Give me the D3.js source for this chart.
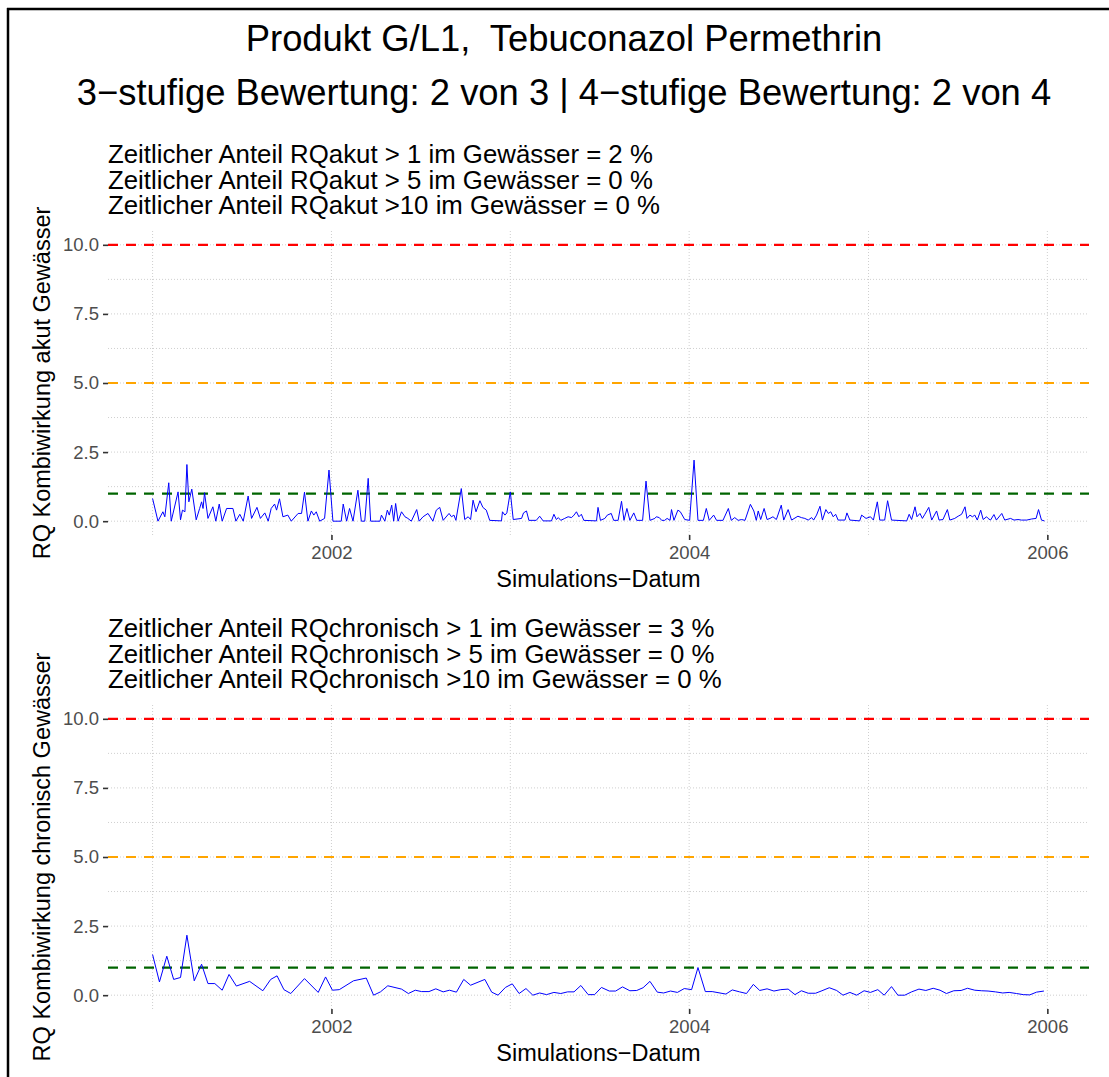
<!DOCTYPE html>
<html>
<head>
<meta charset="utf-8">
<script src="https://cdn.jsdelivr.net/npm/d3@7.9.0/dist/d3.min.js"></script>
<style>
  body { margin: 0; background: #fff; }
  svg { display: block; font-family: "Liberation Sans", Arial, Helvetica, sans-serif; }
</style>
</head>
<body>
<svg id="chart" width="1109" height="1077"></svg>
<script>
// Titles and annotation texts
const titleLines = [
  'Produkt G/L1,  Tebuconazol Permethrin',
  '3\u2212stufige Bewertung: 2 von 3 | 4\u2212stufige Bewertung: 2 von 4'
];
const acuteNotes = [
  'Zeitlicher Anteil RQakut > 1 im Gewässer = 2 %',
  'Zeitlicher Anteil RQakut > 5 im Gewässer = 0 %',
  'Zeitlicher Anteil RQakut >10 im Gewässer = 0 %'
];
const chronicNotes = [
  'Zeitlicher Anteil RQchronisch > 1 im Gewässer = 3 %',
  'Zeitlicher Anteil RQchronisch > 5 im Gewässer = 0 %',
  'Zeitlicher Anteil RQchronisch >10 im Gewässer = 0 %'
];
const acuteYTitle = 'RQ Kombiwirkung akut Gewässer';
const chronicYTitle = 'RQ Kombiwirkung chronisch Gewässer';
const xTitle = 'Simulations\u2212Datum';

// Axis ticks
const yTicks = [0, 2.5, 5, 7.5, 10];
const yMinorTicks = [1.25, 3.75, 6.25, 8.75];
const xTickYears = [2002, 2004, 2006];
const xMinorYears = [2001, 2003, 2005];

// Threshold lines (RQ = 10, 5, 1)
const thresholds = [10, 5, 1];
const thresholdColors = ['#ff0000', '#ffa500', '#006400'];

// Series: [days since 2001-01-01, RQ]
const acuteSeries = [
  [0,0.82],[11,0],[21,0.34],[25,0.16],[33,1.39],[38,0],[52,1.06],[57,0.05],[61,0.40],[66,0.34],
  [70,2.05],[74,0.70],[80,1.16],[89,0.05],[96,0.46],[100,0.70],[103,0.46],[106,1.03],[113,0.1],[123,0.52],
  [129,0],[136,0.62],[142,0],[151,0.46],[164,0.46],[170,0],[178,0.25],[185,0],[195,0.91],[202,0.1],
  [213,0.50],[220,0.1],[229,0.30],[236,0],[242,0.46],[249,0.62],[253,0.40],[259,0.81],[266,0.16],[276,0.22],
  [283,0],[297,0.28],[304,0.28],[310,1.05],[317,0],[324,0.37],[329,0.22],[334,0.34],[341,0],[351,0.1],
  [360,1.85],[368,0],[385,0],[389,0.62],[396,0],[402,0.46],[409,0],[419,1.12],[426,0],[433,0],
  [440,1.55],[445,0],[464,0],[467,0.22],[474,0],[479,0.40],[483,0.22],[488,0.58],[492,0],[496,0.64],
  [501,0],[508,0.34],[515,0.16],[521,0.1],[528,0],[539,0.42],[544,0],[552,0.16],[562,0.28],[572,0],
  [579,0.40],[586,0.50],[593,0.03],[605,0.28],[610,0.16],[615,0.22],[619,0.03],[630,1.18],[637,0.06],[644,0.16],
  [649,0.06],[654,0.76],[660,0.34],[668,0.74],[674,0.50],[681,0.40],[688,0.03],[712,0.01],[714,0.34],[719,0.22],
  [723,0.30],[730,1.06],[736,0.06],[753,0.1],[757,0.30],[763,0.37],[768,0.03],[783,0.03],[790,0.18],[797,0.01],
  [814,0.01],[819,0.25],[824,0.06],[828,0.13],[833,0.03],[841,0.1],[848,0.16],[855,0.13],[860,0.22],[865,0.34],
  [870,0.16],[875,0.25],[880,0.03],[906,0.01],[909,0.50],[914,0.03],[923,0.1],[928,0.22],[936,0.28],[941,0.03],
  [950,0.03],[957,0.72],[962,0.03],[968,0.46],[974,0.03],[982,0.30],[988,0.03],[1000,0.03],[1007,1.45],[1015,0.03],
  [1025,0.1],[1028,0.16],[1034,0.13],[1039,0.03],[1045,0.03],[1050,0.1],[1056,0.03],[1059,0.42],[1064,0.03],[1072,0.40],
  [1077,0.34],[1086,0.06],[1096,0.03],[1105,2.21],[1113,0.03],[1124,0.03],[1130,0.46],[1136,0.03],[1145,0.22],[1151,0.03],
  [1164,0.03],[1175,0.46],[1181,0.03],[1188,0.13],[1195,0.03],[1202,0.06],[1209,0.03],[1220,0.61],[1227,0.37],[1232,0.03],
  [1236,0.37],[1241,0.06],[1248,0.46],[1254,0.06],[1260,0.1],[1266,0.16],[1273,0.06],[1283,0.58],[1288,0.04],[1297,0.42],
  [1304,0.04],[1317,0.18],[1324,0.13],[1331,0.1],[1338,0.04],[1345,0.13],[1349,0.04],[1355,0.22],[1362,0.54],[1367,0.04],
  [1374,0.42],[1379,0.28],[1384,0.34],[1389,0.16],[1394,0.25],[1399,0.04],[1413,0.04],[1417,0.30],[1423,0.04],[1443,0.01],
  [1447,0.22],[1456,0.1],[1465,0.16],[1471,0.04],[1479,0.70],[1484,0.04],[1494,0.04],[1500,0.74],[1508,0.04],[1539,0.01],
  [1544,0.25],[1549,0.06],[1556,0.52],[1560,0.16],[1566,0.28],[1571,0.1],[1576,0.25],[1584,0.50],[1590,0.04],[1600,0.37],
  [1605,0.04],[1613,0.06],[1622,0.42],[1627,0.04],[1637,0.1],[1644,0.18],[1651,0.25],[1658,0.52],[1662,0.1],[1668,0.22],
  [1673,0.16],[1678,0.22],[1683,0.04],[1690,0.40],[1695,0.06],[1702,0.16],[1705,0.1],[1710,0.04],[1717,0.24],[1722,0.04],
  [1733,0.28],[1739,0.04],[1751,0.1],[1758,0.04],[1766,0.06],[1773,0.04],[1784,0.04],[1794,0.08],[1803,0.1],[1808,0.42],
  [1814,0.04],[1820,0.01]
];

const chronicSeries = [
  [0,1.47],[14,0.48],[29,1.41],[43,0.57],[57,0.64],[70,2.17],[85,0.52],[100,1.12],[113,0.42],[127,0.42],
  [142,0.18],[156,0.75],[171,0.33],[198,0.50],[225,0.16],[241,0.57],[254,0.70],[268,0.20],[282,0.06],[310,0.60],
  [338,0.10],[353,0.66],[367,0.18],[381,0.20],[410,0.52],[436,0.62],[451,0],[465,0.12],[480,0.34],[508,0.22],
  [522,0.06],[536,0.18],[549,0.13],[564,0.13],[578,0.23],[593,0.12],[606,0.18],[620,0.11],[635,0.57],[649,0.36],
  [678,0.57],[692,0.11],[705,0],[720,0.28],[734,0.41],[748,0.06],[762,0.24],[776,0],[790,0.08],[804,0.02],
  [819,0.10],[833,0.06],[847,0.12],[860,0.12],[874,0.35],[889,0.02],[902,0.02],[916,0.28],[932,0.15],[945,0.15],
  [959,0.30],[974,0.16],[988,0.17],[1001,0.27],[1015,0.50],[1030,0.11],[1043,0.08],[1057,0.15],[1071,0.10],[1085,0.24],
  [1100,0.20],[1113,1.0],[1128,0.13],[1142,0.13],[1170,0.04],[1183,0.19],[1198,0.12],[1212,0.06],[1226,0.39],[1239,0.17],
  [1254,0.23],[1268,0.15],[1282,0.20],[1297,0.22],[1311,0.02],[1324,0.16],[1338,0.07],[1353,0.07],[1366,0.16],[1381,0.27],
  [1396,0.17],[1409,0],[1423,0.10],[1437,0],[1452,0.16],[1465,0.10],[1480,0.20],[1493,0],[1508,0.31],[1521,0],
  [1535,0],[1549,0.12],[1564,0.22],[1578,0.17],[1593,0.25],[1607,0.18],[1620,0.06],[1635,0.16],[1650,0.17],[1663,0.25],
  [1678,0.18],[1692,0.16],[1705,0.15],[1720,0.12],[1735,0.08],[1748,0.10],[1763,0.06],[1777,0.02],[1790,0.01],[1804,0.11],
  [1819,0.15]
];

const svg = d3.select('#chart');
const width = 1109, height = 1077;

svg.append('rect').attr('width', width).attr('height', height).attr('fill', '#fff');

// frame remnants on the left and top edge
svg.append('line').attr('x1', 8).attr('x2', 8).attr('y1', 8).attr('y2', height)
  .attr('stroke', '#000').attr('stroke-width', 2.5);
svg.append('line').attr('x1', 7).attr('x2', width).attr('y1', 9).attr('y2', 9)
  .attr('stroke', '#000').attr('stroke-width', 2.5);

// main titles
const titleY = [51, 105];
titleLines.forEach((t, i) => {
  svg.append('text')
    .attr('x', 564).attr('y', titleY[i])
    .attr('text-anchor', 'middle')
    .attr('font-size', 36.4)
    .style('white-space', 'pre')
    .attr('fill', '#000')
    .text(t);
});

// shared time scale (ggplot-style 5% expansion)
const start = Date.UTC(2001, 0, 1);
const dayToDate = d => new Date(start + d * 864e5);
const allDays = acuteSeries.concat(chronicSeries).map(d => d[0]);
const [d0, d1] = d3.extent(allDays);
const xPad = (d1 - d0) * 0.05;
const plotLeft = 108, plotRight = 1089;
const x = d3.scaleUtc()
  .domain([dayToDate(d0 - xPad), dayToDate(d1 + xPad)])
  .range([plotLeft, plotRight]);

const panelHeight = 304;

function drawPanel(top, series, notes, yTitle) {
  const g = svg.append('g');
  const bottom = top + panelHeight;

  const yMax = d3.max(thresholds.concat(series.map(d => d[1])));
  const yPad = yMax * 0.05;
  const y = d3.scaleLinear().domain([-yPad, yMax + yPad]).range([bottom, top]);

  // grid
  const grid = g.append('g')
    .attr('stroke', '#cfcfcf')
    .attr('stroke-width', 1)
    .attr('stroke-dasharray', '1,2');
  grid.selectAll('.hg')
    .data(yTicks.concat(yMinorTicks))
    .join('line')
    .attr('x1', plotLeft).attr('x2', plotRight)
    .attr('y1', d => y(d)).attr('y2', d => y(d));
  grid.selectAll('.vg')
    .data(xTickYears.concat(xMinorYears))
    .join('line')
    .attr('x1', d => x(new Date(Date.UTC(d, 0, 1))))
    .attr('x2', d => x(new Date(Date.UTC(d, 0, 1))))
    .attr('y1', top).attr('y2', bottom);

  // threshold lines
  g.selectAll('.thr')
    .data(thresholds)
    .join('line')
    .attr('x1', plotLeft).attr('x2', plotRight)
    .attr('y1', d => y(d)).attr('y2', d => y(d))
    .attr('stroke', (d, i) => thresholdColors[i])
    .attr('stroke-width', 2.2)
    .attr('stroke-dasharray', '10,8');

  // RQ series
  const line = d3.line()
    .x(d => x(dayToDate(d[0])))
    .y(d => y(d[1]));
  g.append('path')
    .datum(series)
    .attr('fill', 'none')
    .attr('stroke', '#0000ff')
    .attr('stroke-width', 1)
    .attr('stroke-linejoin', 'round')
    .attr('d', line);

  // axes
  const yAxis = g.append('g')
    .attr('transform', `translate(${plotLeft},0)`)
    .call(d3.axisLeft(y).tickValues(yTicks).tickFormat(d3.format('.1f')).tickSize(5).tickPadding(4));
  const xAxis = g.append('g')
    .attr('transform', `translate(0,${bottom})`)
    .call(d3.axisBottom(x)
      .tickValues(xTickYears.map(yr => new Date(Date.UTC(yr, 0, 1))))
      .tickFormat(d3.utcFormat('%Y'))
      .tickSize(5).tickPadding(6));
  [yAxis, xAxis].forEach(a => {
    a.select('.domain').remove();
    a.selectAll('.tick line').attr('stroke', '#333').attr('stroke-width', 1.6);
    a.selectAll('.tick text')
      .attr('fill', '#4d4d4d')
      .attr('font-size', 18.5)
      .attr('font-family', '"Liberation Sans", Arial, sans-serif');
  });

  // notes above panel
  notes.forEach((t, i) => {
    g.append('text')
      .attr('x', plotLeft)
      .attr('y', top - 68 + i * 25.7)
      .attr('font-size', 25.8)
      .style('white-space', 'pre')
      .attr('fill', '#000')
      .text(t);
  });

  // axis titles
  g.append('text')
    .attr('x', (plotLeft + plotRight) / 2)
    .attr('y', bottom + 52)
    .attr('text-anchor', 'middle')
    .attr('font-size', 23.5)
    .attr('fill', '#000')
    .text(xTitle);
  g.append('text')
    .attr('transform', `translate(50,${(top + bottom) / 2}) rotate(-90)`)
    .attr('text-anchor', 'middle')
    .attr('font-size', 23.5)
    .attr('fill', '#000')
    .text(yTitle);
}

drawPanel(231, acuteSeries, acuteNotes, acuteYTitle);
drawPanel(705, chronicSeries, chronicNotes, chronicYTitle);
</script>
</body>
</html>
